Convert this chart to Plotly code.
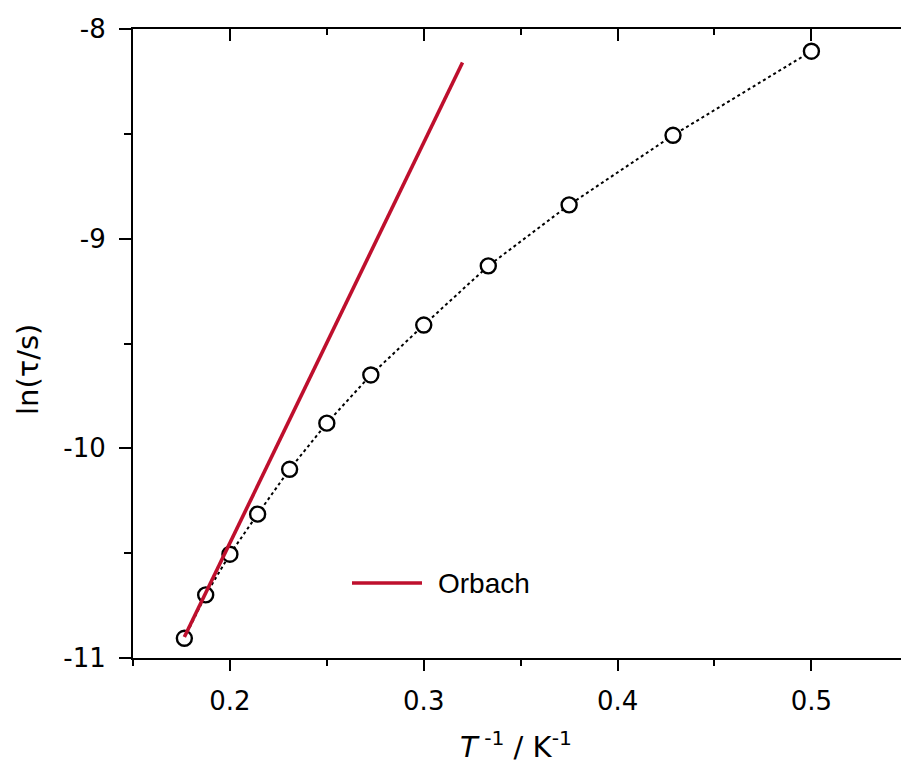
import plotly.graph_objects as go

# Data
inv_T = [0.1765, 0.1875, 0.2, 0.2143, 0.2308, 0.25, 0.2727, 0.3, 0.3333, 0.375, 0.4286, 0.5]
ln_tau = [-10.906, -10.699, -10.505, -10.314, -10.100, -9.880, -9.650, -9.412, -9.130, -8.839, -8.507, -8.106]

orbach_x = [0.1765, 0.32]
orbach_y = [-10.90, -8.16]

x_tickvals = [0.2, 0.3, 0.4, 0.5]
x_ticktext = ["0.2", "0.3", "0.4", "0.5"]
y_tickvals = [-11, -10, -9, -8]
y_ticktext = ["-11", "-10", "-9", "-8"]

RED = "#BE0F2D"
TICKFONT = dict(family="DejaVu Sans", size=26, color="black")

W, H = 901, 771
L, T, B = 133, 29, 113
PW = W - L
PH = H - T - B

fig = go.Figure()
fig.add_trace(go.Scatter(
    x=inv_T, y=ln_tau, mode="lines+markers",
    line=dict(color="black", width=2, dash="dot"),
    marker=dict(symbol="circle", size=15, color="white", line=dict(color="black", width=2.4)),
    showlegend=False,
))
fig.add_trace(go.Scatter(
    x=orbach_x, y=orbach_y, mode="lines",
    line=dict(color=RED, width=3.6),
    name="Orbach", showlegend=False,
))
# invisible trace to anchor the top (mirror) axis
fig.add_trace(go.Scatter(x=[], y=[], xaxis="x2", showlegend=False, hoverinfo="skip"))

xr = [0.15, 0.15 + PW / 1938.3]

def px_x(p):
    return (p - L) / PW

def px_y(p):
    return (H - B - p) / PH

fig.update_layout(
    width=W, height=H,
    margin=dict(l=L, r=0, t=T, b=B, autoexpand=False),
    paper_bgcolor="white", plot_bgcolor="white",
    xaxis=dict(
        range=xr, showgrid=False, zeroline=False, automargin=False,
        showline=True, linecolor="black", linewidth=2,
        tickmode="array", tickvals=x_tickvals, ticktext=x_ticktext,
        ticks="outside", ticklen=11, tickwidth=2, tickcolor="black",
        minor=dict(tickmode="array", tickvals=[0.15, 0.25, 0.35, 0.45], ticks="outside", ticklen=6, tickwidth=2, tickcolor="black"),
        tickfont=TICKFONT, ticklabelstandoff=8,
    ),
    xaxis2=dict(
        range=xr, overlaying="x", side="top", anchor="y", automargin=False,
        showgrid=False, zeroline=False,
        showline=True, linecolor="black", linewidth=2,
        tickmode="array", tickvals=x_tickvals, showticklabels=False,
        ticks="inside", ticklen=12, tickwidth=2, tickcolor="black",
        minor=dict(tickmode="array", tickvals=[0.25, 0.35, 0.45], ticks="inside", ticklen=6, tickwidth=2, tickcolor="black"),
    ),
    yaxis=dict(
        range=[-11, -8], showgrid=False, zeroline=False, automargin=False,
        showline=True, linecolor="black", linewidth=2, mirror=False,
        tickmode="array", tickvals=y_tickvals, ticktext=y_ticktext,
        ticks="outside", ticklen=12, tickwidth=2, tickcolor="black",
        minor=dict(tickmode="array", tickvals=[-10.5, -9.5, -8.5], ticks="outside", ticklen=7, tickwidth=2, tickcolor="black"),
        tickfont=TICKFONT, ticklabelstandoff=8,
    ),
    shapes=[
        dict(type="line", xref="paper", yref="paper",
             x0=px_x(352), x1=px_x(422), y0=px_y(583), y1=px_y(583),
             line=dict(color=RED, width=3.6)),
    ],
    annotations=[
        dict(text="Orbach", xref="paper", yref="paper", x=px_x(436), y=px_y(583),
             showarrow=False, xanchor="left", yanchor="middle",
             font=dict(family="Liberation Sans, Arial", size=28, color="black")),
        dict(text="ln(τ/s)", xref="paper", yref="paper", x=px_x(28), y=px_y(370),
             textangle=-90, showarrow=False, xanchor="center", yanchor="middle",
             font=dict(family="DejaVu Sans", size=29, color="black")),
        dict(text="<i>T</i><sup> -1</sup> / K<sup>-1</sup>", xref="paper", yref="paper",
             x=px_x(516), y=px_y(745), showarrow=False, xanchor="center", yanchor="middle",
             font=dict(family="DejaVu Sans", size=29, color="black")),
    ],
)
fig.write_html(
    "out.html",
    config={"displayModeBar": False},
    post_script="document.body.style.margin='0px';document.body.style.overflow='hidden';",
)
